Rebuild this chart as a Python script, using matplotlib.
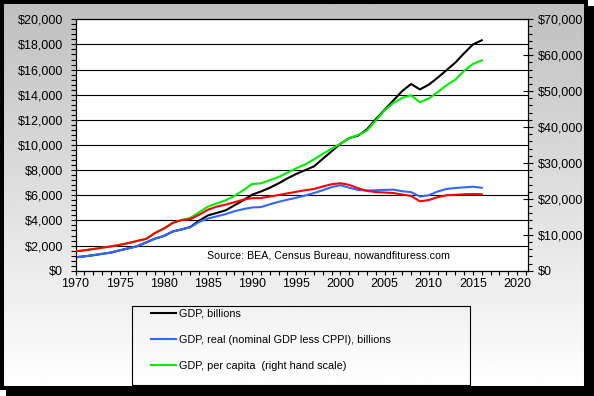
import numpy as np
import matplotlib
matplotlib.use("Agg")
import matplotlib.pyplot as plt
from matplotlib.patches import Rectangle
from matplotlib.ticker import MultipleLocator, FuncFormatter

plt.rcParams['font.family'] = ['Liberation Sans', 'DejaVu Sans']

years = list(range(1970, 2017))

# GDP, billions (left scale)
gdp_nominal = [1070, 1140, 1230, 1340, 1440, 1620, 1780, 1950, 2250, 2550,
               2760, 3120, 3280, 3480, 3980, 4400, 4600, 4800, 5200, 5600,
               6050, 6300, 6600, 6950, 7350, 7700, 8000, 8300, 8900, 9500,
               10100, 10550, 10750, 11250, 12050, 12800, 13550, 14300, 14850, 14420,
               14800, 15350, 15950, 16550, 17300, 18000, 18330]

# GDP, real (nominal GDP less CPPI), billions (left scale)
gdp_real = [1070, 1140, 1230, 1340, 1440, 1620, 1780, 1950, 2250, 2550,
            2760, 3120, 3280, 3460, 3880, 4150, 4330, 4500, 4730, 4900,
            5030, 5060, 5280, 5480, 5650, 5800, 5980, 6180, 6400, 6650,
            6800, 6600, 6420, 6380, 6400, 6430, 6450, 6320, 6250, 5900,
            6000, 6300, 6500, 6580, 6630, 6680, 6600]

# GDP per capita, dollars (right scale)
gdp_per_capita = [5390, 5670, 6020, 6400, 6760, 7180, 7700, 8300, 8860, 10500,
                  11730, 13300, 14100, 14700, 16280, 17850, 18730, 19600, 20830, 22400,
                  24150, 24330, 25200, 26080, 27300, 28530, 29580, 30980, 32550, 33950,
                  35350, 36930, 37800, 39030, 41830, 44630, 46730, 48130, 48830, 46900,
                  47950, 49700, 51630, 53200, 55650, 57580, 58560]

# real GDP per capita, dollars (right scale, no legend entry)
gdp_real_per_capita = [5390, 5670, 6020, 6400, 6760, 7180, 7700, 8300, 8860, 10500,
                       11730, 13300, 14100, 14350, 15580, 16980, 17850, 18380, 19080, 19780,
                       20200, 20230, 20650, 21070, 21530, 21980, 22400, 22750, 23450, 24080,
                       24360, 23900, 22960, 22230, 21880, 21770, 21630, 21210, 20830, 19320,
                       19670, 20480, 21000, 21140, 21280, 21350, 21280]

legend_labels = ["GDP, billions",
                 "GDP, real (nominal GDP less CPPI), billions",
                 "GDP, per capita  (right hand scale)"]
source_text = "Source: BEA, Census Bureau, nowandfituress.com"

W, H = 594, 396
fig = plt.figure(figsize=(W / 100, H / 100), dpi=100)

# background: shadow, gradient panel, black frame
bg = fig.add_axes([0, 0, 1, 1], zorder=-10)
bg.add_patch(Rectangle((6, 6), W - 6, H - 6, facecolor='black', edgecolor='none', zorder=1))
grad = np.linspace(0.75, 1.0, 256).reshape(-1, 1)
bg.imshow(grad, cmap='gray', vmin=0, vmax=1, extent=(2, 586, 388, 2), aspect='auto', zorder=2)
bg.add_patch(Rectangle((2, 2), 584, 386, facecolor='none', edgecolor='black', lw=2.9, zorder=3))
bg.set_xlim(0, W)
bg.set_ylim(H, 0)
bg.axis('off')

# main plot area
L, R, T, B = 75.5, 527.7, 19.3, 270.7
ax = fig.add_axes([L / W, 1 - B / H, (R - L) / W, (B - T) / H])
ax2 = ax.twinx()

l_black, = ax.plot(years, gdp_nominal, color='black', lw=1.5, zorder=3)
l_blue, = ax.plot(years, gdp_real, color='#3366ff', lw=1.5, zorder=5)
l_green, = ax2.plot(years, gdp_per_capita, color='#00ee00', lw=1.5, zorder=4)
l_red, = ax2.plot(years, gdp_real_per_capita, color='#ff0000', lw=1.5, zorder=6)

ax.set_xlim(1970, 2021.2)
ax.set_ylim(0, 20000)
ax2.set_ylim(0, 70000)

money = FuncFormatter(lambda v, p: "${:,.0f}".format(v))

ax.xaxis.set_major_locator(MultipleLocator(5))
ax.xaxis.set_minor_locator(MultipleLocator(1))
ax.yaxis.set_major_locator(MultipleLocator(2000))
ax.yaxis.set_minor_locator(MultipleLocator(400))
ax.yaxis.set_major_formatter(money)
ax2.yaxis.set_major_locator(MultipleLocator(10000))
ax2.yaxis.set_minor_locator(MultipleLocator(2000))
ax2.yaxis.set_major_formatter(money)

ax.tick_params(axis='x', which='major', direction='out', length=3, width=0.8,
               labelsize=9, pad=2, color='black')
ax.tick_params(axis='x', which='minor', direction='out', length=3, width=0.8)
ax.tick_params(axis='y', which='both', direction='out', length=3.6, width=0.8,
               labelsize=9, pad=5.5)
ax2.tick_params(axis='y', which='major', direction='inout', length=7, width=0.8,
                labelsize=9, pad=4)
ax2.tick_params(axis='y', which='minor', direction='out', length=3, width=0.8)

ax.grid(True, which='major', axis='y', color='black', lw=0.8)
ax.set_axisbelow(True)
for a in (ax, ax2):
    for s in a.spines.values():
        s.set_color('black')
        s.set_linewidth(0.8)

ax.text(0.56, 0.061, source_text, transform=ax.transAxes, ha='center', va='center',
        fontsize=7.7, zorder=10)

# legend box
bg.add_patch(Rectangle((131.7, 306), 338, 79, facecolor='none', edgecolor='black',
                       lw=0.8, zorder=4))
fig.legend([l_black, l_blue, l_green], legend_labels,
           loc='upper left', bbox_to_anchor=(151 / W, 1 - 308.5 / H),
           frameon=False, fontsize=7.8, borderpad=0, borderaxespad=0,
           handlelength=2.35, handletextpad=0.25, labelspacing=1.5)

fig.savefig("out.png", dpi=100)
